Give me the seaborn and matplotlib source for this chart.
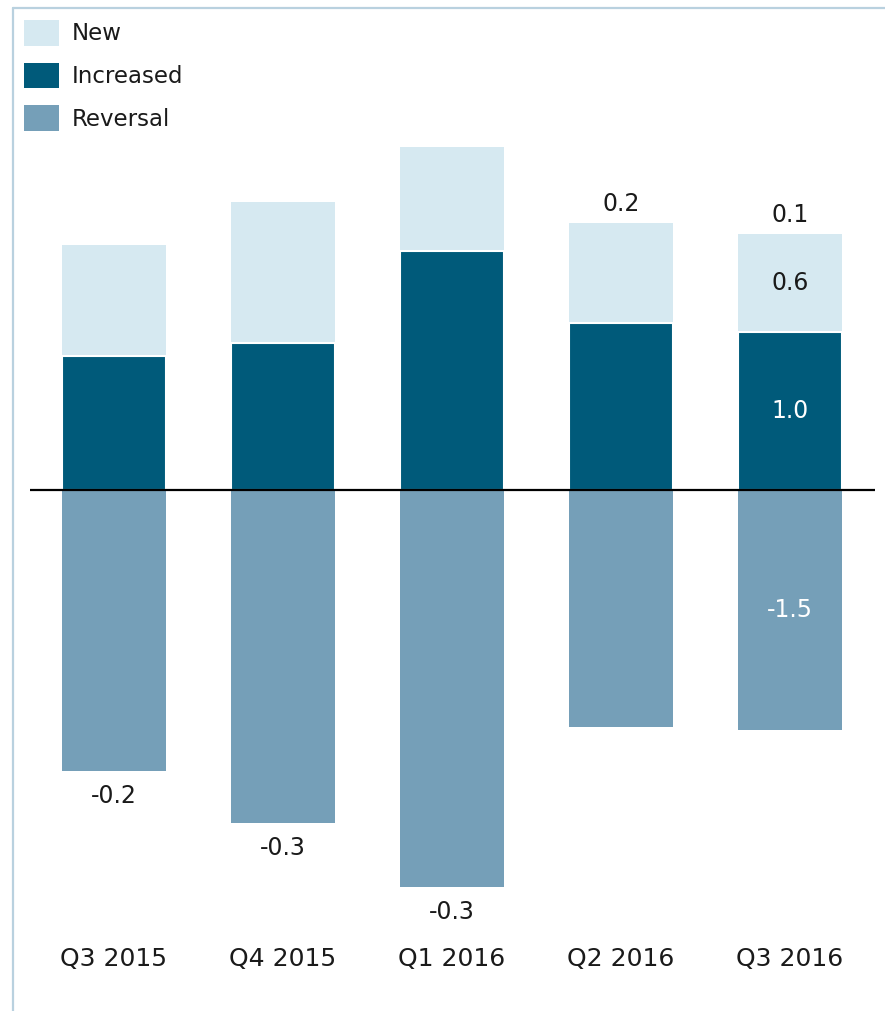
import matplotlib
matplotlib.use("Agg")
import matplotlib.pyplot as plt
import seaborn as sns
import pandas as pd
import numpy as np
from matplotlib.patches import Patch
from matplotlib.lines import Line2D

quarters = ["Q3 2015", "Q4 2015", "Q1 2016", "Q2 2016", "Q3 2016"]
new = [0.70, 0.89, 0.66, 0.63, 0.62]
increased = [0.85, 0.93, 1.51, 1.06, 1.00]
reversal = [-1.78, -2.11, -2.51, -1.50, -1.52]

C_NEW = "#d6e9f1"
C_INC = "#005a7a"
C_REV = "#759fb8"
C_BORDER = "#b9d1df"
C_TXT = "#1a1a1a"

sns.set_theme(style="white")
plt.rcParams["font.family"] = ["DejaVu Sans"]

W, H = 885, 1011
fig = plt.figure(figsize=(W / 100, H / 100), dpi=100)

ppu = 158.0
zero_px = 490.0
ymax, ymin = 2.6, -2.75
top_px = zero_px - ymax * ppu
bot_px = zero_px - ymin * ppu
left_px, right_px = 29.5, 874.5
ax = fig.add_axes([left_px / W, 1 - bot_px / H, (right_px - left_px) / W, (bot_px - top_px) / H])

df = pd.DataFrame({"quarter": quarters, "new": new, "increased": increased, "reversal": reversal})
df["top"] = df["new"] + df["increased"]
df["net"] = df["new"] + df["increased"] + df["reversal"]

bw = 0.615
sns.barplot(data=df, x="quarter", y="top", color=C_NEW, width=bw, saturation=1, ax=ax, linewidth=0)
sns.barplot(data=df, x="quarter", y="increased", color=C_INC, width=bw, saturation=1, ax=ax,
            edgecolor="white", linewidth=1.5)
sns.barplot(data=df, x="quarter", y="reversal", color=C_REV, width=bw, saturation=1, ax=ax, linewidth=0)

ax.set_xlim(-0.5, 4.5)
ax.set_ylim(ymin, ymax)
ax.axhline(0, color="black", linewidth=1.6, zorder=5)

fs = 17
for i, row in df.iterrows():
    net = row["net"]
    if net < 0:
        ax.annotate(f"{net:.1f}", (i, row["reversal"]), xytext=(0, -18), textcoords="offset points",
                    ha="center", va="center", fontsize=fs, color=C_TXT)
    else:
        ax.annotate(f"{net:.1f}", (i, row["top"]), xytext=(0, 14), textcoords="offset points",
                    ha="center", va="center", fontsize=fs, color=C_TXT)

# inside labels for latest quarter
i = len(df) - 1
r = df.iloc[i]
ax.text(i, r["increased"] + r["new"] / 2, f"{r['new']:.1f}", ha="center", va="center", fontsize=fs, color=C_TXT)
ax.text(i, r["increased"] / 2, f"{r['increased']:.1f}", ha="center", va="center", fontsize=fs, color="white")
ax.text(i, r["reversal"] / 2, f"{r['reversal']:.1f}", ha="center", va="center", fontsize=fs, color="white")

ax.set_xlabel("")
ax.set_ylabel("")
ax.set_yticks([])
ax.tick_params(axis="x", length=0, pad=16, labelsize=18, labelcolor=C_TXT)
for s in ax.spines.values():
    s.set_visible(False)

# frame lines (left and top)
fig.add_artist(Line2D([12.5 / W, 12.5 / W], [0, 1 - 8 / H], color=C_BORDER, linewidth=1.6))
fig.add_artist(Line2D([12.5 / W, 1], [1 - 8 / H, 1 - 8 / H], color=C_BORDER, linewidth=1.6))

handles = [Patch(facecolor=C_NEW, edgecolor="none", label="New"),
           Patch(facecolor=C_INC, edgecolor="none", label="Increased"),
           Patch(facecolor=C_REV, edgecolor="none", label="Reversal")]
fig.legend(handles=handles, loc="upper left", bbox_to_anchor=(24 / W, 1 - 20 / H), frameon=False,
           fontsize=16.5, handlelength=1.53, handleheight=1.34, handletextpad=0.57, labelspacing=0.74,
           borderpad=0, borderaxespad=0, labelcolor=C_TXT)

fig.savefig("out.png", dpi=100)
